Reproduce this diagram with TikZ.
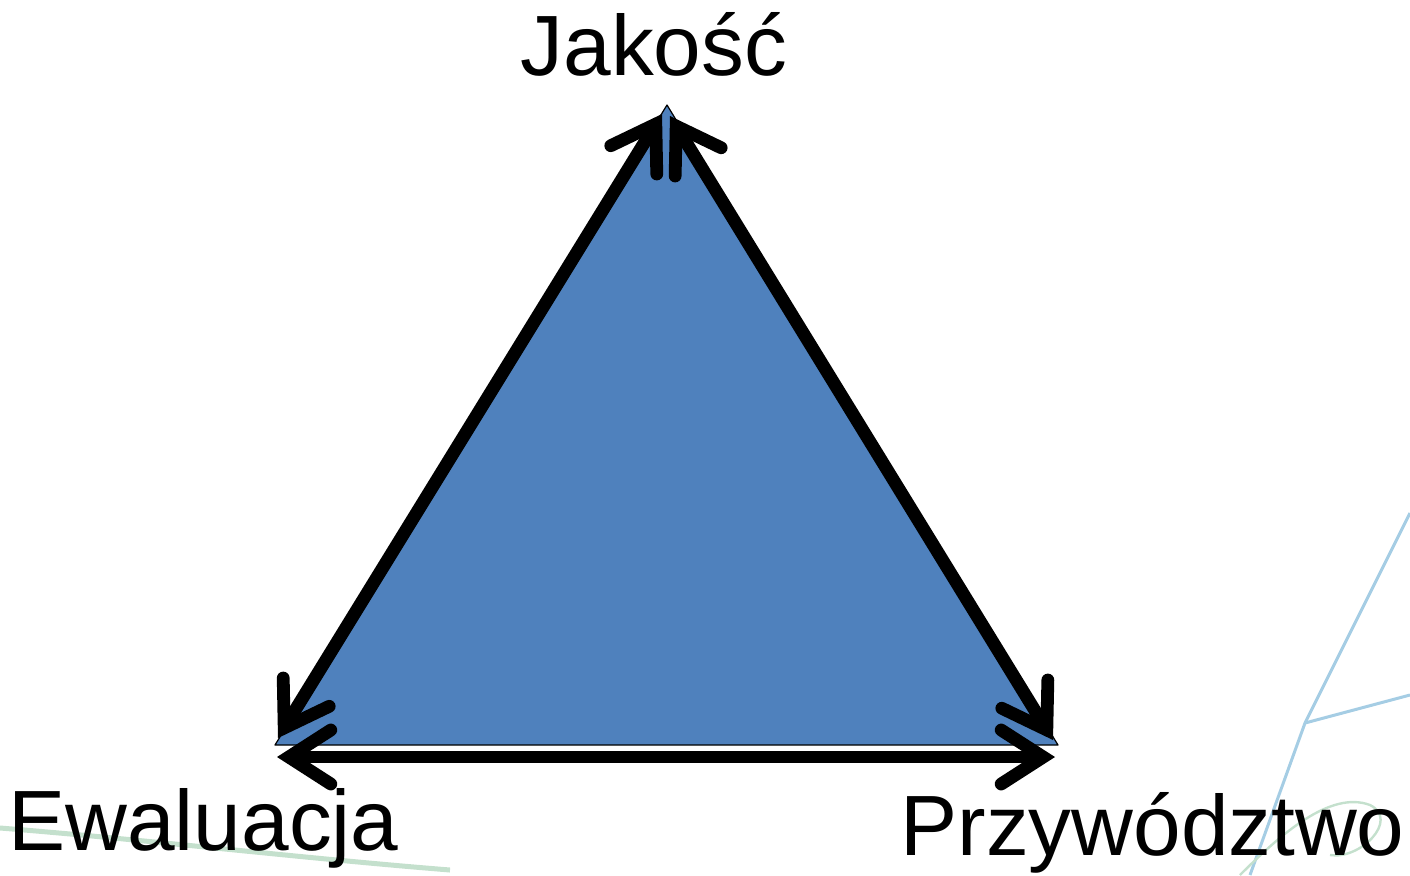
\documentclass[tikz,border=0pt]{standalone}
\usepackage{fontspec}
\setmainfont{Liberation Sans}
\usetikzlibrary{arrows.meta,positioning}
\definecolor{triblue}{RGB}{79,129,189}
\definecolor{decoblue}{RGB}{165,205,228}
\definecolor{decogreen}{RGB}{196,224,205}

\begin{document}
\begin{tikzpicture}[x=0.5pt, y=-0.5pt, line join=round,
    >={Straight Barb[length=21pt, width=27pt, line cap=round]},
    side/.style={<->, line width=6.4pt, line cap=round},
    vertex/.style={font=\fontsize{42.8}{50}\selectfont, inner sep=0pt}]
        \useasboundingbox (0,0) rectangle (1410,875);

        % faint slide decoration
        \draw[decoblue, line width=1.5pt] (1410,513) -- (1305,723) -- (1250,875);
        \draw[decoblue, line width=1.5pt] (1305,723) -- (1410,695);
        \draw[decogreen, line width=2.5pt] (0,828) .. controls (150,840) and (300,858) .. (450,870);
        \draw[decogreen, line width=1.2pt] (1240,875) .. controls (1280,835) and (1330,790) .. (1370,805) .. controls (1400,820) and (1360,860) .. (1330,855);

        % triangle corners
        \coordinate (top) at (667,105);
        \coordinate (left) at (275,745);
        \coordinate (right) at (1058,745);
        \fill[triblue, draw=black, line width=0.6pt] (top) -- (left) -- (right) -- cycle;

        \node[vertex, anchor=base] (quality) at (654,75) {Jakość};
        \node[vertex, anchor=base west] (evaluation) at (8,850) {Ewaluacja};
        \node[vertex, anchor=base west] (leadership) at (900,855) {Przywództwo};

        % double arrows along the sides
        \coordinate (lefthead) at (662,114);
        \coordinate (lefttail) at (278,738);
        \coordinate (righthead) at (670,116);
        \coordinate (righttail) at (1053,740);
        \coordinate (basel) at (277,757);
        \coordinate (baser) at (1055,757);
        \draw[side] (lefthead) -- (lefttail);
        \draw[side] (righthead) -- (righttail);
        \draw[side] (basel) -- (baser);
\end{tikzpicture}
\end{document}
